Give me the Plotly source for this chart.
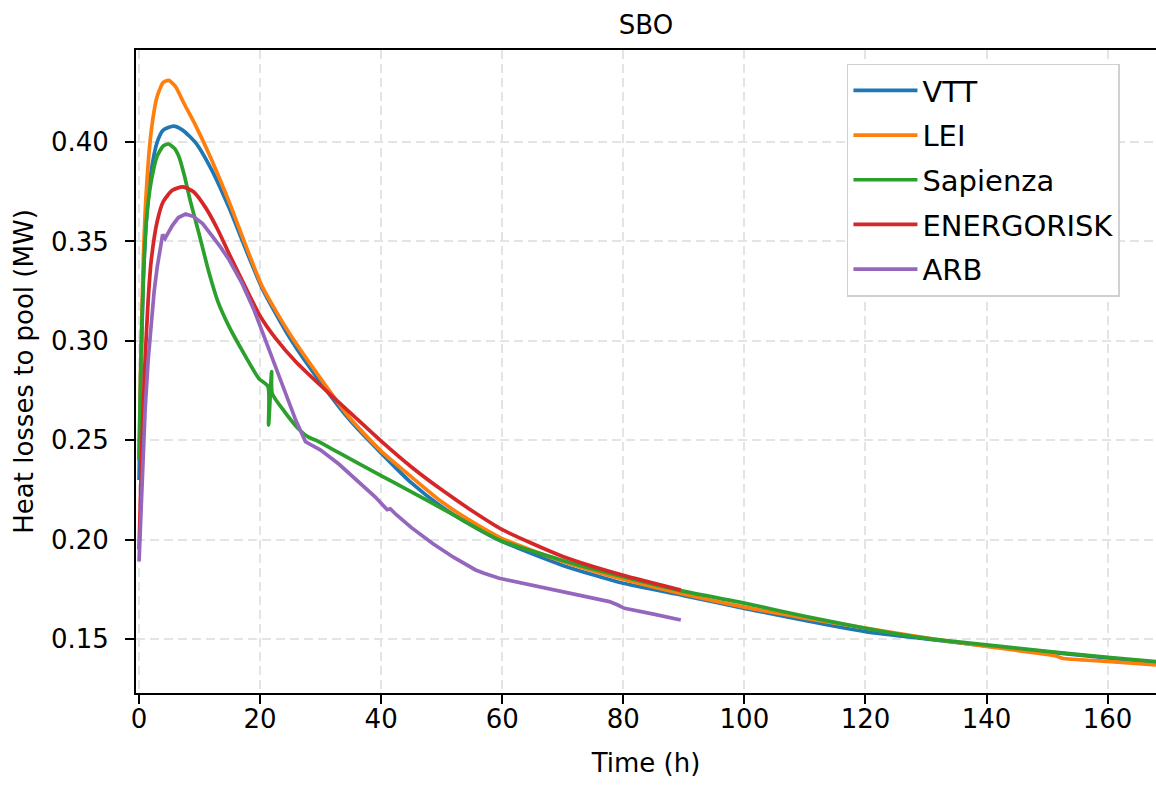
import plotly.graph_objects as go

# ---- data ----
vtt_t = [0, 0.3, 0.7, 1.2, 2, 3, 4, 5.7, 7.2, 9.4, 12, 15, 17.5, 20.4, 25, 30, 35, 40, 45, 50,
         55, 60, 70, 80, 90, 100, 110, 120, 130, 140, 150, 160, 168]
vtt_q = [0.230, 0.280, 0.330, 0.360, 0.385, 0.400, 0.406, 0.408, 0.406, 0.3995, 0.386, 0.366,
         0.347, 0.326, 0.301, 0.279, 0.2595, 0.2435, 0.2285, 0.2165, 0.207, 0.199, 0.187, 0.178,
         0.1718, 0.1654, 0.1593, 0.1537, 0.1500, 0.1465, 0.1435, 0.1405, 0.1380]

lei_t = [0, 0.3, 0.7, 1.2, 2, 3, 4, 4.9, 6, 7.5, 9.4, 12, 15, 17.5, 20.4, 25, 30, 35, 40, 45,
         50, 55, 60, 70, 80, 90, 100, 110, 120, 130, 140, 150, 151.5, 152.5, 160, 168]
lei_q = [0.240, 0.290, 0.340, 0.375, 0.405, 0.423, 0.430, 0.431, 0.428, 0.419, 0.408, 0.391,
         0.369, 0.349, 0.327, 0.303, 0.281, 0.2605, 0.2445, 0.2315, 0.219, 0.209, 0.2005, 0.189,
         0.180, 0.1725, 0.166, 0.1605, 0.1555, 0.1505, 0.1462, 0.1422, 0.1414, 0.1403, 0.1387,
         0.1369]

sap_t = [0, 0.3, 0.7, 1.2, 2, 3, 4, 4.85, 5.8, 6.6, 7.5, 8.5, 9.9, 11.5, 13, 14.9, 16.5, 19.8,
         21.3, 21.4, 21.9, 22.0, 24, 26.4, 28, 29.2, 33, 40.2, 44.6, 51.2, 59.5, 70, 80, 89.5,
         100, 110, 120, 130, 140, 150, 160, 168]
sap_q = [0.240, 0.290, 0.330, 0.360, 0.380, 0.393, 0.398, 0.399, 0.397, 0.3926, 0.383, 0.370,
         0.354, 0.335, 0.320, 0.307, 0.298, 0.281, 0.277, 0.2576, 0.2845, 0.2735, 0.2645, 0.2555,
         0.2515, 0.250, 0.2437, 0.2318, 0.2246, 0.2137, 0.1998, 0.1895, 0.1813, 0.1743, 0.168,
         0.1614, 0.1554, 0.1503, 0.1470, 0.1437, 0.1408, 0.1386]

ene_t = [0, 0.5, 1, 1.5, 2, 3, 4, 5.5, 7.2, 9, 11, 13, 15, 17.5, 20, 22.5, 25.9, 30, 35, 40,
         45, 50, 55, 60, 70, 80, 89.5]
ene_q = [0.195, 0.250, 0.290, 0.320, 0.340, 0.360, 0.370, 0.3757, 0.3774, 0.3750, 0.367, 0.356,
         0.343, 0.3275, 0.3125, 0.3015, 0.2895, 0.2775, 0.2635, 0.2495, 0.2365, 0.2250, 0.2145,
         0.2050, 0.1915, 0.182, 0.1746]

arb_t = [0, 0.5, 1, 1.5, 2, 2.5, 3, 3.6, 3.9, 4.3, 4.8, 5.5, 6.5, 7.7, 9, 10.5, 12, 13.5, 14.9,
         17, 19, 21.5, 23.5, 25.9, 27.5, 28.6, 30, 33, 36, 39, 41.0, 41.5, 42.5, 45, 48.5, 52,
         55.6, 57, 59.5, 65, 70, 75, 77.7, 79, 80.2, 85, 89.5]
arb_q = [0.189, 0.230, 0.265, 0.290, 0.310, 0.325, 0.337, 0.350, 0.3535, 0.3515, 0.354, 0.358,
         0.362, 0.3638, 0.3625, 0.359, 0.353, 0.347, 0.3406, 0.329, 0.3155, 0.2954, 0.279, 0.260,
         0.2492, 0.2475, 0.245, 0.238, 0.230, 0.2215, 0.2150, 0.2155, 0.2125, 0.206, 0.198,
         0.191, 0.1847, 0.1830, 0.1805, 0.177, 0.174, 0.1705, 0.1688, 0.1672, 0.1654, 0.1625,
         0.1595]

series = [
    ("VTT", vtt_t, vtt_q, "#1f77b4", "spline"),
    ("LEI", lei_t, lei_q, "#ff7f0e", "spline"),
    ("Sapienza", sap_t, sap_q, "#2ca02c", "spline"),
    ("ENERGORISK", ene_t, ene_q, "#d62728", "spline"),
    ("ARB", arb_t, arb_q, "#9467bd", "linear"),
]

x_ticks = [0, 20, 40, 60, 80, 100, 120, 140, 160]
y_ticks = [0.15, 0.20, 0.25, 0.30, 0.35, 0.40]

FONT = "DejaVu Sans"
FS = 26

fig = go.Figure()
for name, t, q, color, shape in series:
    fig.add_trace(go.Scatter(
        x=t, y=q, mode="lines", name=name, legendgroup=name,
        line=dict(color=color, width=3.7, shape=shape, smoothing=0.6 if shape == "spline" else None),
    ))

axis_common = dict(
    showline=True, linecolor="black", linewidth=1.8, automargin=False,
    ticks="outside", ticklen=9, tickwidth=1.6, tickcolor="black",
    showgrid=True, gridcolor="#e4e4e4", gridwidth=1.6, griddash="9px,5px",
    zeroline=False, tickfont=dict(family=FONT, size=FS, color="black"),
)

fig.update_layout(
    width=1156, height=785,
    margin=dict(l=136, r=0, t=50, b=92, autoexpand=False),
    paper_bgcolor="white", plot_bgcolor="white",
    font=dict(family=FONT, size=FS, color="black"),
    title=dict(text="SBO", x=0.5, xref="paper", xanchor="center",
               y=1 - 25 / 785, yanchor="middle", font=dict(family=FONT, size=FS, color="black")),
    xaxis=dict(range=[-0.5, 168], tickvals=x_ticks, mirror=True,
               title=dict(text="Time (h)", standoff=21, font=dict(family=FONT, size=FS)),
               ticklabelstandoff=-7, **axis_common),
    yaxis=dict(range=[0.1228, 0.4463], tickvals=y_ticks, tickformat=".2f",
               title=dict(text="Heat losses to pool (MW)", standoff=10, font=dict(family=FONT, size=FS)),
               ticklabelstandoff=11, **axis_common),
    legend=dict(x=0.697, y=0.979, xanchor="left", yanchor="top",
                bgcolor="white", bordercolor="#d0d0d0", borderwidth=1.5,
                font=dict(family=FONT, size=29, color="black"),
                tracegroupgap=4, itemwidth=64),
    showlegend=True,
)

fig.write_html(
    "out.html",
    config={"displayModeBar": False},
    post_script="document.body.style.margin='0';document.body.style.overflow='hidden';",
)
